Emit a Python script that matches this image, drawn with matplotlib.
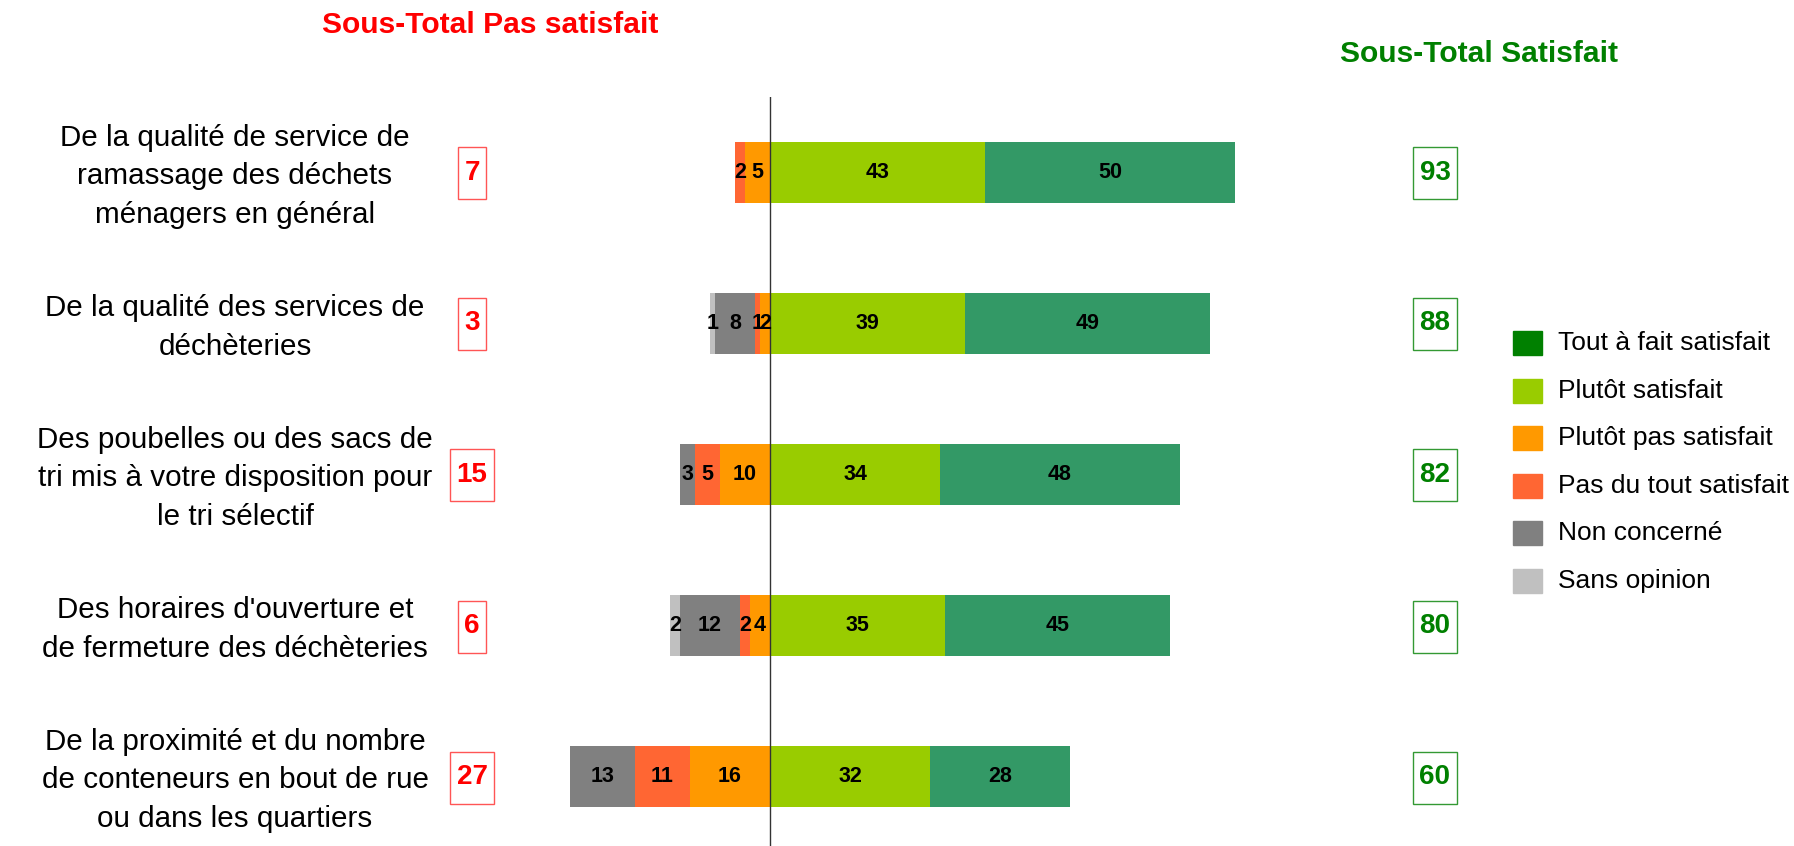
import numpy as np
import matplotlib
matplotlib.use('Agg')
import matplotlib.pyplot as plt
from matplotlib.patches import Rectangle

plt.rcParams['font.family'] = ['Liberation Sans', 'DejaVu Sans']

# Données (en %), du haut vers le bas
questions = ["De la qualité de service de\nramassage des déchets\nménagers en général",
             "De la qualité des services de\ndéchèteries",
             "Des poubelles ou des sacs de\ntri mis à votre disposition pour\nle tri sélectif",
             "Des horaires d'ouverture et\nde fermeture des déchèteries",
             "De la proximité et du nombre\nde conteneurs en bout de rue\nou dans les quartiers"]
sans_opinion = [0, 1, 0, 2, 0]
non_concerne = [0, 8, 3, 12, 13]
pas_du_tout = [2, 1, 5, 2, 11]
plutot_pas = [5, 2, 10, 4, 16]
plutot_satisfait = [43, 39, 34, 35, 32]
tout_a_fait = [50, 49, 48, 45, 28]
sous_total_pas = [7, 3, 15, 6, 27]
sous_total_sat = [93, 88, 82, 80, 60]

legende = ['Tout à fait satisfait', 'Plutôt satisfait', 'Plutôt pas satisfait',
           'Pas du tout satisfait', 'Non concerné', 'Sans opinion']
couleurs_leg = ['#008000', '#99CC00', '#FF9900', '#FF6633', '#808080', '#C0C0C0']

W, H = 1794, 846
fig = plt.figure(figsize=(W / 100, H / 100), dpi=100)
ax = fig.add_axes([0, 0, 1, 749 / H])

y = np.arange(len(questions))
h = 0.4

# Côté satisfait (droite)
gauche = np.zeros(len(y))
for vals, c in [(plutot_satisfait, '#99CC00'), (tout_a_fait, '#339966')]:
    v = np.array(vals, dtype=float)
    ax.barh(y, v, h, left=gauche, color=c, zorder=2)
    for i in range(len(y)):
        if v[i] > 0:
            ax.text(gauche[i] + v[i] / 2, y[i], str(int(v[i])), ha='center', va='center',
                    fontsize=15.5, fontweight='bold', zorder=4)
    gauche += v

# Côté pas satisfait (gauche)
gauche = np.zeros(len(y))
for vals, c in [(plutot_pas, '#FF9900'), (pas_du_tout, '#FF6633'),
                (non_concerne, '#808080'), (sans_opinion, '#C0C0C0')]:
    v = np.array(vals, dtype=float)
    ax.barh(y, -v, h, left=-gauche, color=c, zorder=2)
    for i in range(len(y)):
        if v[i] > 0:
            ax.text(-gauche[i] - v[i] / 2, y[i], str(int(v[i])), ha='center', va='center',
                    fontsize=15.5, fontweight='bold', zorder=4)
    gauche += v

ax.axvline(0, color='#333333', lw=1.0, zorder=3)

ax.set_xlim(-770 / 5, (W - 770) / 5)
ax.set_ylim(-0.5 + 749 / 151, -0.5)
ax.axis('off')

# Libellés des questions
for i, q in enumerate(questions):
    ax.text(-107, y[i] + 0.025, q, ha='center', va='center', multialignment='center',
            fontsize=21.3, linespacing=1.48)

# Sous-totaux encadrés
boites = []
for i in range(len(y)):
    t1 = ax.text(-59.6, y[i], str(sous_total_pas[i]), ha='center', va='center',
                 fontsize=20, fontweight='bold', color='#FF0000')
    t2 = ax.text(133, y[i], str(sous_total_sat[i]), ha='center', va='center',
                 fontsize=20, fontweight='bold', color='#008000')
    boites.append((t1, '#FF5555'))
    boites.append((t2, '#339933'))

fig.text(490 / W, 1 - 25 / H, 'Sous-Total Pas satisfait', ha='center', va='center',
         fontsize=21.6, fontweight='bold', color='#FF0000')
fig.text(1479 / W, 1 - 54 / H, 'Sous-Total Satisfait', ha='center', va='center',
         fontsize=21.6, fontweight='bold', color='#008000')

# Légende
for k, (lab, c) in enumerate(zip(legende, couleurs_leg)):
    yc = 343 + k * 47.6
    fig.add_artist(Rectangle((1513 / W, 1 - (yc + 12) / H), 29 / W, 24 / H,
                             transform=fig.transFigure, color=c))
    fig.text(1558 / W, 1 - yc / H, lab, ha='left', va='center', fontsize=19)

fig.canvas.draw()
r = fig.canvas.get_renderer()
inv = fig.transFigure.inverted()
for t, ec in boites:
    bb = t.get_window_extent(r)
    cx = (bb.x0 + bb.x1) / 2
    cy = ax.transData.transform((0, t.get_position()[1]))[1]
    w = bb.width + 13
    hh = 52
    (x0, y0) = inv.transform((cx - w / 2, cy - hh / 2 - 1))
    (x1, y1) = inv.transform((cx + w / 2, cy + hh / 2 - 1))
    fig.add_artist(Rectangle((x0, y0), x1 - x0, y1 - y0, transform=fig.transFigure,
                             fill=False, ec=ec, lw=1.0))

plt.savefig('out.png', dpi=100)
